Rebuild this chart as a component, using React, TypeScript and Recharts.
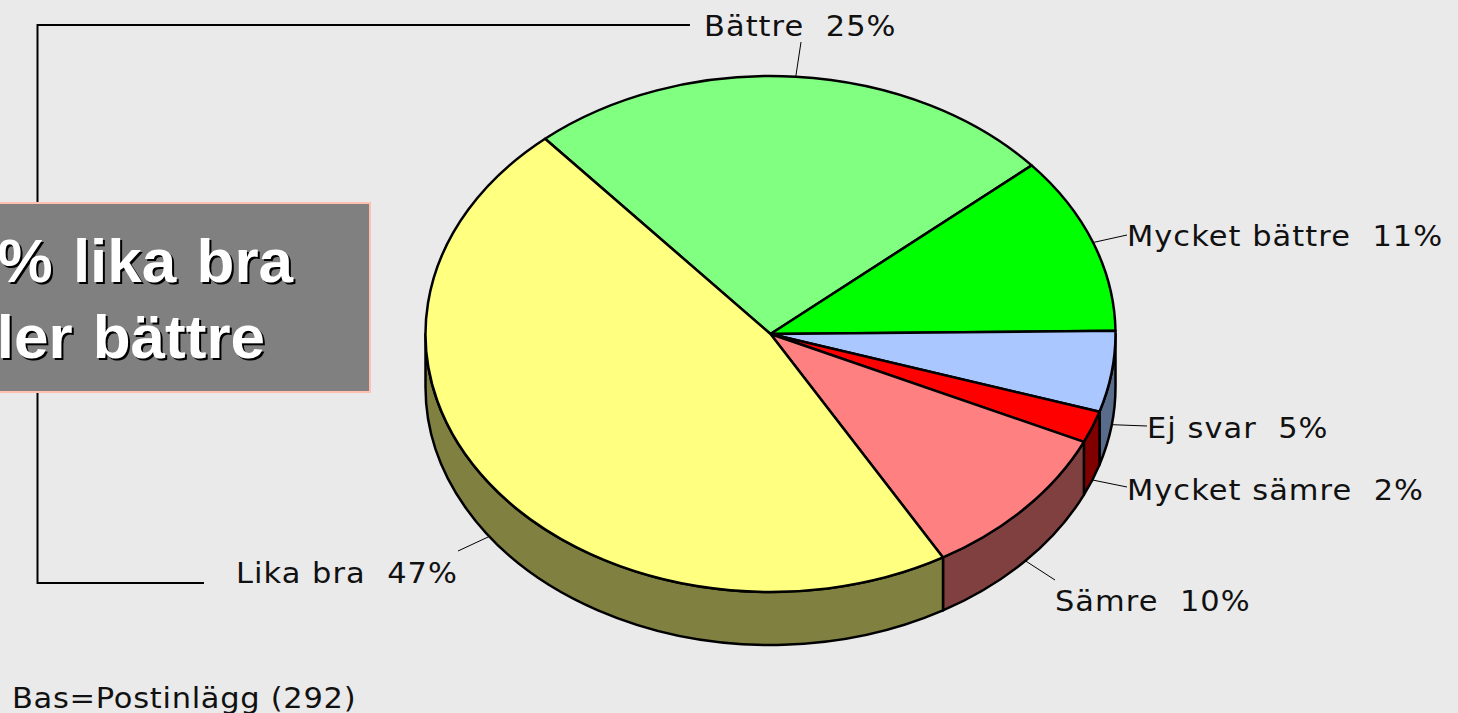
import React from 'react';
import { PieChart, Pie } from 'recharts';

const names = ['Bättre', 'Mycket bättre', 'Ej svar', 'Mycket sämre', 'Sämre', 'Lika bra'];
// slice sizes as measured from the wedge edges, the labels show them rounded
const values = [25, 11.13, 5.07, 2, 9.8, 47];
const topColors = ['#80FF80', '#00FF00', '#AAC8FF', '#FF0000', '#FF8080', '#FFFF80'];
const wallColors = ['#408040', '#008000', '#5A6C8C', '#800000', '#804040', '#808040'];

// text anchor (x, baseline) and where the leader line ends, one entry per slice
const labelX = [704, 1127, 1147, 1127, 1055, 236];
const labelY = [36, 246, 438, 500, 611, 583];
const leaderX = [801, 1127, 1147, 1127, 1055, 458];
const leaderY = [42, 235, 426, 487, 580, 551];

const WIDTH = 1458;
const HEIGHT = 713;
const TILT = 258 / 345;
const DEPTH = 53;
const RAD = Math.PI / 180;
const TEXT_STRETCH = 1.05;

const tableData = names.map((name, i) => ({ name, value: values[i], fill: topColors[i] }));

const ellipsePoint = (cx: number, cy: number, rx: number, deg: number) => ({
  x: cx + rx * Math.cos(deg * RAD),
  y: cy - rx * TILT * Math.sin(deg * RAD),
});

// flat sector squashed to an ellipse, with a side wall for the front half
const Slice3D = (props: any) => {
  const { cx, cy, outerRadius: rx, startAngle, endAngle, index, fill } = props;
  const ry = rx * TILT;
  const a = ellipsePoint(cx, cy, rx, startAngle);
  const b = ellipsePoint(cx, cy, rx, endAngle);
  const large = Math.abs(startAngle - endAngle) > 180 ? 1 : 0;
  const top = `M${cx},${cy} L${a.x},${a.y} A${rx},${ry} 0 ${large} 1 ${b.x},${b.y} Z`;

  const from = Math.min(startAngle, 0);
  const to = Math.max(endAngle, -180);
  let wall = null;
  if (from > to) {
    const p = ellipsePoint(cx, cy, rx, from);
    const q = ellipsePoint(cx, cy, rx, to);
    wall = (
      <path
        d={`M${p.x},${p.y} A${rx},${ry} 0 0 1 ${q.x},${q.y} L${q.x},${q.y + DEPTH} A${rx},${ry} 0 0 0 ${p.x},${p.y + DEPTH} Z`}
        fill={wallColors[index ?? names.indexOf(props.name)]}
        stroke="#000"
        strokeWidth={2.5}
        strokeLinejoin="round"
      />
    );
  }
  return (
    <g>
      {wall}
      <path d={top} fill={fill} stroke="#000" strokeWidth={2.5} strokeLinejoin="round" />
    </g>
  );
};

const renderLabel = (props: any) => {
  const { cx, cy, outerRadius, midAngle, index } = props;
  const p = ellipsePoint(cx, cy, outerRadius, midAngle);
  const onFront = Math.sin(midAngle * RAD) < 0;
  return (
    <g key={names[index]}>
      <line x1={p.x} y1={onFront ? p.y + DEPTH : p.y} x2={leaderX[index]} y2={leaderY[index]} stroke="#000" strokeWidth={1} />
      <text
        transform={`translate(${labelX[index]},${labelY[index]}) scale(${TEXT_STRETCH},1)`}
        fontFamily="DejaVu Sans"
        fontSize={29}
        letterSpacing={1}
        fill="#111"
        style={{ whiteSpace: 'pre' }}
      >
        {`${names[index]}  ${Math.round(values[index])}%`}
      </text>
    </g>
  );
};

const Callout = () => {
  const lines = [
    { text: '83% lika bra', x: 293, y: 282 },
    { text: 'eller bättre', x: 265, y: 358 },
  ];
  return (
    <g>
      <polyline points="204,583 37.5,583 37.5,25 690,25" fill="none" stroke="#000" strokeWidth={2} />
      <rect x={-10} y={203} width={380} height={189} fill="#808080" stroke="#FFC0B0" strokeWidth={2} />
      {lines.map(l => (
        <text
          key={l.text}
          x={l.x}
          y={l.y}
          fill="#fff"
          fontFamily="Liberation Sans"
          fontWeight="bold"
          fontSize={62}
          textAnchor="end"
          style={{ wordSpacing: 3, filter: 'drop-shadow(2.5px 2.5px 0 #000)' }}
        >
          {l.text}
        </text>
      ))}
    </g>
  );
};

const App: React.FC = () => (
  <div style={{ position: 'absolute', left: 0, top: 0, width: WIDTH, height: HEIGHT, background: '#EAEAEA', overflow: 'hidden' }}>
    <PieChart width={WIDTH} height={HEIGHT} margin={{ top: 0, right: 0, bottom: 0, left: 0 }}>
      <Callout />
      <Pie
        data={tableData}
        dataKey="value"
        nameKey="name"
        cx={770.5}
        cy={334}
        innerRadius={0}
        outerRadius={345}
        startAngle={130.8}
        endAngle={-229.2}
        shape={Slice3D}
        label={renderLabel}
        labelLine={false}
        isAnimationActive={false}
      />
      <text transform="translate(12,708) scale(1.05,1)" fontFamily="DejaVu Sans" fontSize={29} letterSpacing={0.7} fill="#111">Bas=Postinlägg (292)</text>
    </PieChart>
  </div>
);

export default App;
